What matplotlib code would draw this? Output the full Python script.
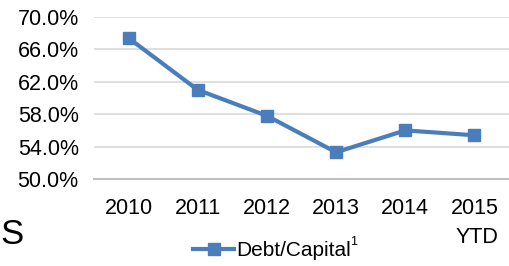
import matplotlib
matplotlib.use("Agg")
import matplotlib.pyplot as plt
from matplotlib.ticker import FuncFormatter, FixedLocator

categories = ["2010", "2011", "2012", "2013", "2014", "2015\nYTD"]
debt_capital = [67.4, 61.0, 57.8, 53.3, 56.0, 55.4]
y_ticks = [50, 54, 58, 62, 66, 70]
series_name = "Debt/Capital"

plt.rcParams['font.family'] = ['Liberation Sans', 'DejaVu Sans']

W, H = 509, 266
fig = plt.figure(figsize=(W / 100, H / 100), dpi=100)
ax = fig.add_axes([94 / W, 1 - 179 / H, (509 - 94) / W, (179 - 17) / H])

color = "#4a7ebb"
x = list(range(len(categories)))
line, = ax.plot(x, debt_capital, color=color, lw=3, marker="s", ms=8,
                label=series_name, solid_joinstyle="round")

ax.set_xlim(-0.5, len(categories) - 0.5)
ax.set_ylim(50, 70)
ax.yaxis.set_major_locator(FixedLocator(y_ticks))
ax.yaxis.set_major_formatter(FuncFormatter(lambda v, p: f"{v:.1f}%"))
ax.set_xticks(x)
ax.set_xticklabels(categories, multialignment="right", linespacing=1.45)

ax.grid(axis="y", color="#d9d9d9", lw=1.2)
ax.set_axisbelow(True)
for s in ["top", "right", "left"]:
    ax.spines[s].set_visible(False)
ax.spines["bottom"].set_color("#bfbfbf")
ax.spines["bottom"].set_linewidth(1.5)
ax.tick_params(axis="both", length=0, labelsize=15.5, colors="black")
ax.tick_params(axis="y", pad=11)
ax.tick_params(axis="x", pad=14)

leg = fig.legend(handles=[line], loc="center", bbox_to_anchor=(272 / W, 1 - 251 / H),
                 frameon=False, fontsize=15, handlelength=2.0, handletextpad=0.1,
                 borderpad=0, borderaxespad=0)
fig.text(354 / W, 1 - 242 / H, "1", fontsize=9, ha="center", va="center")
fig.text(0, 1 - 235 / H, "S", fontsize=25, ha="left", va="center")

fig.savefig("out.png", dpi=100)
